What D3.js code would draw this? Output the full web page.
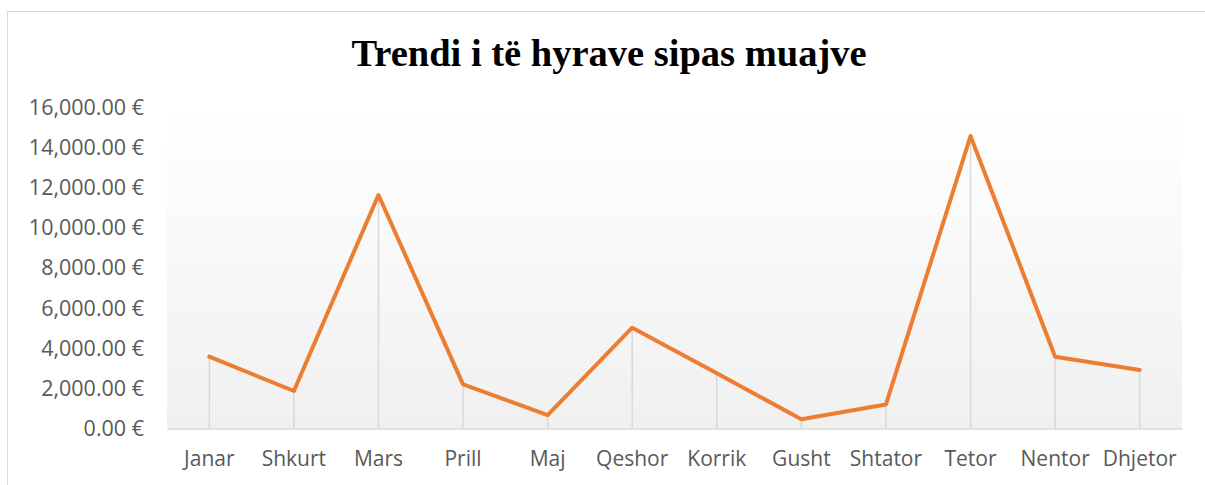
<!DOCTYPE html>
<html>
<head>
<meta charset="utf-8">
<script src="https://cdn.jsdelivr.net/npm/d3@7"></script>
<style>
  body { margin: 0; background: #fff; }
  svg { display: block; }
  .tick-label { font-family: 'Open Sans', sans-serif; fill: #595959; }
</style>
</head>
<body>
<svg id="chart" width="1205" height="485"></svg>
<script>
const months = ['Janar', 'Shkurt', 'Mars', 'Prill', 'Maj', 'Qeshor', 'Korrik',
  'Gusht', 'Shtator', 'Tetor', 'Nentor', 'Dhjetor'];
const income = [3580, 1870, 11640, 2200, 670, 5025, 2750, 460, 1200, 14580, 3580, 2915];
const yTicks = [0, 2000, 4000, 6000, 8000, 10000, 12000, 14000, 16000];
const title = 'Trendi i të hyrave sipas muajve';

const svg = d3.select('#chart');
const plot = { left: 167, right: 1182, top: 107.5, bottom: 428.5 };

// chart frame (only top and left edges fall inside the picture)
svg.append('rect')
  .attr('x', 7.5).attr('y', 11.5)
  .attr('width', 1300).attr('height', 600)
  .attr('fill', 'none')
  .attr('stroke', '#d9d9d9');

const defs = svg.append('defs');
const grad = defs.append('linearGradient')
  .attr('id', 'bg').attr('x1', 0).attr('y1', 0).attr('x2', 0).attr('y2', 1);
grad.append('stop').attr('offset', '0%').attr('stop-color', '#ffffff');
grad.append('stop').attr('offset', '100%').attr('stop-color', '#f0f0f0');

const x = d3.scaleBand()
  .domain(months)
  .range([plot.left, plot.right]);
const y = d3.scaleLinear()
  .domain([0, 16000])
  .range([plot.bottom, plot.top]);

svg.append('rect')
  .attr('x', plot.left).attr('y', plot.top)
  .attr('width', plot.right - plot.left)
  .attr('height', plot.bottom - plot.top)
  .attr('fill', 'url(#bg)');

svg.append('text')
  .attr('x', 609).attr('y', 66)
  .attr('text-anchor', 'middle')
  .style('font-family', "'Liberation Serif', 'Times New Roman', serif")
  .style('font-weight', 'bold')
  .style('font-size', '38.5px')
  .text(title);

const cx = m => x(m) + x.bandwidth() / 2;

// drop lines
svg.append('g')
  .selectAll('line')
  .data(months)
  .join('line')
    .attr('x1', cx).attr('x2', cx)
    .attr('y1', (m, i) => y(income[i]))
    .attr('y2', plot.bottom)
    .attr('stroke', '#d9d9d9')
    .attr('stroke-width', 1.5);

// category axis
const xAxis = svg.append('g')
  .attr('transform', `translate(0,${plot.bottom})`)
  .call(d3.axisBottom(x).tickSize(0).tickPadding(23));
xAxis.select('.domain').attr('stroke', '#d9d9d9').attr('stroke-width', 1.5);
xAxis.selectAll('text')
  .attr('class', 'tick-label')
  .style('font-size', '21px');

// value axis
const fmt = d3.format(',.2f');
const yAxis = svg.append('g')
  .attr('transform', `translate(${plot.left},0)`)
  .call(d3.axisLeft(y).tickValues(yTicks).tickSize(0).tickPadding(23)
    .tickFormat(v => `${fmt(v)} €`));
yAxis.select('.domain').remove();
yAxis.selectAll('text')
  .attr('class', 'tick-label')
  .style('font-size', '21.5px');

const line = d3.line()
  .x((d, i) => cx(months[i]))
  .y(d => y(d));

svg.append('path')
  .datum(income)
  .attr('d', line)
  .attr('fill', 'none')
  .attr('stroke', '#ED7D31')
  .attr('stroke-width', 4)
  .attr('stroke-linejoin', 'round')
  .attr('stroke-linecap', 'round');
</script>
</body>
</html>
